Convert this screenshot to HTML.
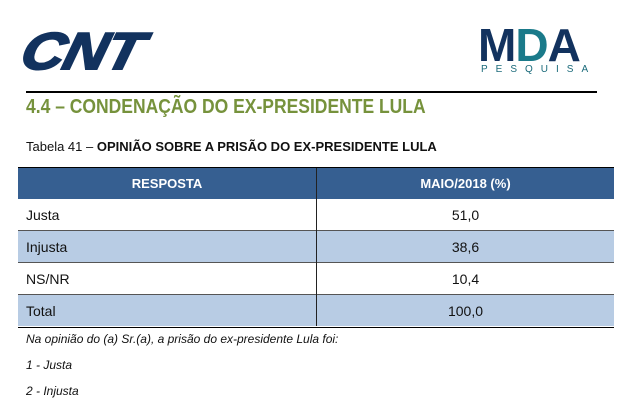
<!DOCTYPE html>
<html><head><meta charset="utf-8"><style>
body{margin:0;width:624px;height:409px;background:#fff;font-family:"Liberation Sans",sans-serif;position:relative;overflow:hidden}
.a{position:absolute}
table{position:absolute;left:18px;top:168px;width:596px;border-collapse:collapse;font-size:14px;color:#111}
td,th{height:31px;padding:0 8px}
th{background:#365f91;color:#fff;font-size:13px;font-weight:bold}
.b td{background:#b8cce4}
td+td,th+th{border-left:1px solid #222;text-align:center}
tr.r td{border-top:1px solid #555}
.i{font-style:italic;font-size:12px;color:#111;left:26px}
</style></head><body>
<div class="a" style="left:30px;top:22px;font:italic 900 52px 'Liberation Sans',sans-serif;color:#12325e;letter-spacing:-1px;transform:skewX(-14deg) scaleX(1.15);transform-origin:left top;-webkit-text-stroke:2px #12325e">CNT</div>
<div class="a" style="left:478px;top:18px;font:bold 46px 'Liberation Sans',sans-serif;color:#12325e;letter-spacing:-1px">M<span style="color:#1a7a8a">D</span>A</div>
<div class="a" style="left:481px;top:64px;font:10px 'Liberation Sans',sans-serif;color:#1a6a7a;letter-spacing:8px">PESQUISA</div>
<div class="a" style="left:26px;top:91px;width:571px;height:2px;background:#000"></div>
<div class="a" style="left:26px;top:96px;font-size:20px;font-weight:bold;color:#76923c;transform:scaleX(0.875);transform-origin:left top;white-space:nowrap">4.4 – CONDENAÇÃO DO EX-PRESIDENTE LULA</div>
<div class="a" style="left:26px;top:139px;font-size:13px;color:#111;white-space:nowrap">Tabela 41 – <b>OPINIÃO SOBRE A PRISÃO DO EX-PRESIDENTE LULA</b></div>
<div class="a" style="left:18px;top:167px;width:596px;height:2px;background:#000"></div>
<table>
<tr><th>RESPOSTA</th><th>MAIO/2018 (%)</th></tr>
<tr><td style="width:282px">Justa</td><td>51,0</td></tr>
<tr class="b r"><td>Injusta</td><td>38,6</td></tr>
<tr class="r"><td>NS/NR</td><td>10,4</td></tr>
<tr class="b r"><td>Total</td><td>100,0</td></tr>
</table>
<div class="a" style="left:18px;top:327px;width:596px;height:1px;background:#000"></div>
<div class="a i" style="top:332px">Na opinião do (a) Sr.(a), a prisão do ex-presidente Lula foi:</div>
<div class="a i" style="top:358px">1 - Justa</div>
<div class="a i" style="top:384px">2 - Injusta</div>
</body></html>
